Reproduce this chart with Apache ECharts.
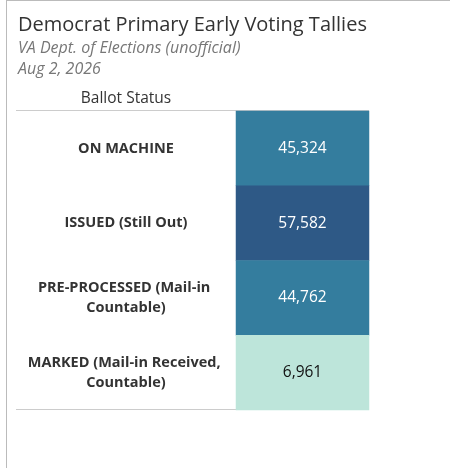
<!DOCTYPE html>
<html>
<head>
<meta charset="utf-8">
<script src="https://cdn.jsdelivr.net/npm/echarts@6/dist/echarts.min.js"></script>
<style>
  html, body { margin: 0; padding: 0; background: #fff; }
  #chart { width: 450px; height: 468px; }
</style>
</head>
<body>
<div id="chart"></div>
<script>
// ballot status rows, top to bottom
var statuses = ['ON MACHINE', 'ISSUED (Still Out)', 'PRE-PROCESSED (Mail-in Countable)', 'MARKED (Mail-in Received, Countable)'];
var tallies = [45324, 57582, 44762, 6961];
var columns = ['Tally'];

var FONT = 'Open Sans';

var cells = tallies.map(function (v, i) {
    return {
        value: [0, i, v],
        label: { color: v < 20000 ? '#111' : '#fff' }
    };
});

var chart = echarts.init(document.getElementById('chart'));
chart.setOption({
    animation: false,
    grid: { left: 236, top: 111, width: 133, height: 299 },
    xAxis: {
        type: 'category',
        data: columns,
        show: false
    },
    yAxis: {
        type: 'category',
        data: statuses,
        inverse: true,
        axisLine: { show: false },
        axisTick: { show: false },
        splitLine: { show: false },
        axisLabel: {
            margin: 110,
            align: 'center',
            width: 210,
            overflow: 'break',
            fontFamily: FONT,
            fontSize: 14.5,
            fontWeight: 'bold',
            lineHeight: 20,
            color: '#333'
        }
    },
    visualMap: {
        show: false,
        type: 'piecewise',
        dimension: 2,
        pieces: [
            { lt: 20000, color: '#bde5da' },
            { gte: 20000, lt: 50000, color: '#347d9e' },
            { gte: 50000, color: '#2e5986' }
        ]
    },
    series: [{
        type: 'heatmap',
        data: cells,
        label: {
            show: true,
            fontFamily: FONT,
            fontSize: 15.5,
            formatter: function (p) { return p.value[2].toLocaleString('en-US'); }
        },
        emphasis: { disabled: true }
    }],
    graphic: [
        { type: 'line', shape: { x1: 6.5, y1: 0, x2: 6.5, y2: 468 }, style: { stroke: '#bbb', lineWidth: 1 } },
        { type: 'line', shape: { x1: 6, y1: 0.5, x2: 450, y2: 0.5 }, style: { stroke: '#bbb', lineWidth: 1 } },
        { type: 'line', shape: { x1: 16, y1: 110.5, x2: 369, y2: 110.5 }, style: { stroke: '#ccc', lineWidth: 1 } },
        { type: 'line', shape: { x1: 16, y1: 409.5, x2: 369, y2: 409.5 }, style: { stroke: '#ccc', lineWidth: 1 } },
        {
            type: 'text', x: 18, y: 25,
            style: { text: 'Democrat Primary Early Voting Tallies', fontFamily: FONT, fontSize: 20, fill: '#333', verticalAlign: 'middle' }
        },
        {
            type: 'text', x: 18, y: 48,
            style: { text: 'VA Dept. of Elections (unofficial)', fontFamily: FONT, fontSize: 16, fontStyle: 'italic', fill: '#777', verticalAlign: 'middle' }
        },
        {
            type: 'text', x: 18, y: 69.5,
            style: { text: 'Aug 2, 2026', fontFamily: FONT, fontSize: 16, fontStyle: 'italic', fill: '#777', verticalAlign: 'middle' }
        },
        {
            type: 'text', x: 126, y: 98.5,
            style: { text: 'Ballot Status', fontFamily: FONT, fontSize: 15.5, fill: '#333', align: 'center', verticalAlign: 'middle' }
        }
    ]
});
</script>
</body>
</html>
